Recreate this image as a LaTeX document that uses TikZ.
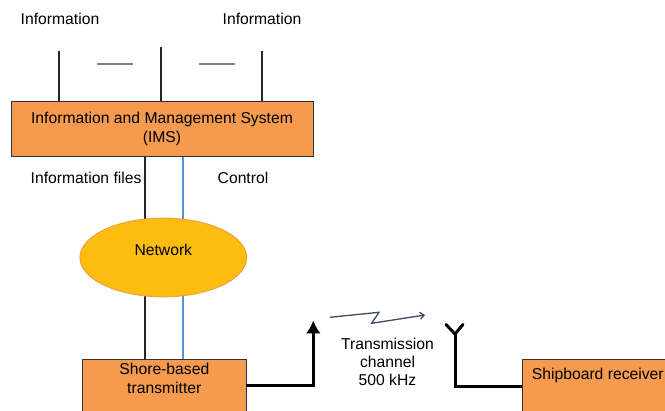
\documentclass[tikz,border=0pt]{standalone}
\usepackage{fontspec}
\setmainfont{Liberation Sans}
\usetikzlibrary{shapes.geometric,arrows.meta}
\definecolor{boxorange}{HTML}{F59A4E}
\definecolor{netyellow}{HTML}{FDBD10}
\definecolor{netedge}{HTML}{F0A040}
\definecolor{ctrlblue}{HTML}{4F93D8}
\definecolor{waveblue}{HTML}{3A4A68}
\tikzset{
    lbl/.style={font=\fontsize{15.7}{18.3}\selectfont,align=center,inner sep=0pt},
    box/.style={draw=black!80,fill=boxorange,line width=0.8pt,inner sep=0pt},
    feed/.style={line width=2pt,black!85},
    ant/.style={line width=3pt,black},
}
\begin{document}
\begin{tikzpicture}[x=1pt,y=-1pt]
        \useasboundingbox (0,0) rectangle (665,411);
        \clip (0,0) rectangle (665,411);
        %% IMS
        \node[box,minimum width=302,minimum height=54.3,lbl] (ims) at (162,129)
            {Information and Management System\\(IMS)};
        \foreach \x/\t in {59.3/51,161.3/47,262.3/51} \draw[feed] (ims.north -| \x,\t) -- (\x,\t);
        \foreach \x in {97,199} \draw[gray,line width=1.3pt,dash pattern=on 1.5pt off 0.5pt] (\x,64) -- (\x+36,64);
        \node[lbl] (infoleft) at (60,19) {Information};
        \node[lbl] (inforight) at (262,19) {Information};
        %% shore transmitter and receiver
        \node[box,minimum width=163.3,minimum height=90,anchor=north] (tx) at (164.3,359.3) {};
        \node[lbl,anchor=north] (txtext) at ([yshift=-4]tx.north) {Shore-based\\transmitter};
        \node[box,minimum width=200,minimum height=90,anchor=north west] (rx) at (522.3,359.3) {};
        \node[lbl,anchor=west] (rxtext) at (531.7,375.7) {Shipboard receiver};
        %% files and control lines
        \draw[feed] (ims.south -| 145.3,0) -- (tx.north -| 145.3,0);
        \draw[line width=2pt,ctrlblue] (ims.south -| 182.7,0) -- (tx.north -| 182.7,0);
        \node[lbl,anchor=east] (files) at (141.7,177.7) {Information files};
        \node[lbl] (control) at (243,177.7) {Control};
        %% network
        \node[ellipse,draw=netedge,fill=netyellow,line width=1pt,minimum width=166.7,minimum height=78.7,
            lbl,text depth=16pt] (net) at (163.3,257.5) {Network};
        %% antennas
        \coordinate (txout) at (246,385.7);
        \coordinate (txant) at (313.3,320.5);
        \draw[ant,-{Latex[length=13pt,width=15pt]}] (txout) -| (txant);
        \coordinate (rxin) at (522.3,386.7);
        \coordinate (rxfoot) at (455,334);
        \draw[ant] (rxin) -| (rxfoot);
        \draw[ant,line cap=round] (446,324.5) -- (rxfoot) -- (463,324.5);
        %% channel
        \draw[waveblue,line width=1.3pt,-{Straight Barb[length=4pt,width=7pt]}] (330,317.3) -- (379,312.3) -- (371.7,323.3) -- (425,315);
        \node[lbl] (chan) at (387.5,361.7) {Transmission\\channel\\500 kHz};
    \end{tikzpicture}
\end{document}
